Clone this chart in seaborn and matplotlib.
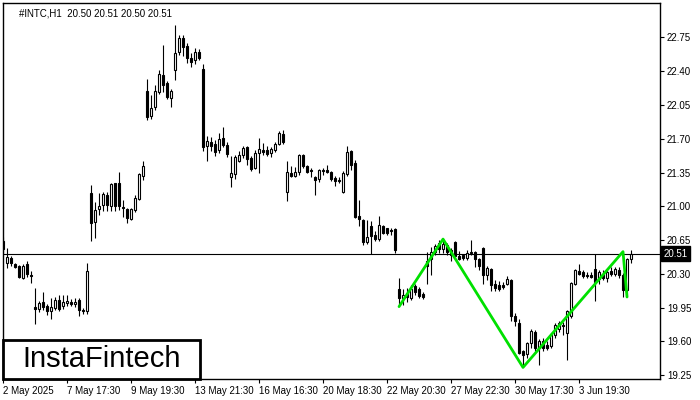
import matplotlib
matplotlib.use("Agg")
import matplotlib.pyplot as plt
import matplotlib.transforms as mtransforms
from matplotlib.patches import Rectangle
import pandas as pd
import numpy as np
import seaborn as sns

# hourly candles (one per bar, left to right)
opens = [20.64, 20.41, 20.46, 20.40, 20.38, 20.26, 20.40, 20.29, 19.96, 19.94,
         20.01, 19.97, 19.91, 19.95, 20.03, 19.97, 20.00, 20.01, 19.99, 20.03,
         19.93, 19.91, 21.14, 20.84, 20.97, 21.01, 21.12, 21.00, 21.24, 21.24,
         20.99, 20.97, 20.87, 20.96, 21.08, 21.31, 22.19, 21.94, 22.03, 22.18,
         22.36, 22.28, 22.12, 22.41, 22.60, 22.74, 22.66, 22.54, 22.52, 22.60,
         22.42, 21.62, 21.67, 21.65, 21.58, 21.71, 21.64, 21.30, 21.33, 21.47,
         21.53, 21.61, 21.50, 21.40, 21.55, 21.58, 21.58, 21.55, 21.58, 21.65,
         21.75, 21.15, 21.35, 21.31, 21.36, 21.53, 21.42, 21.38, 21.30, 21.28,
         21.38, 21.38, 21.36, 21.29, 21.27, 21.15, 21.33, 21.57, 21.45, 20.90,
         20.86, 20.63, 20.80, 20.70, 20.66, 20.80, 20.77, 20.75, 20.76, 20.14,
         20.05, 20.10, 20.05, 20.17, 20.14, 20.09, 20.43, 20.45, 20.53, 20.62,
         20.56, 20.60, 20.55, 20.63, 20.48, 20.49, 20.46, 20.53, 20.53, 20.45,
         20.57, 20.29, 20.35, 20.19, 20.18, 20.18, 20.19, 20.24, 19.86, 19.79,
         19.50, 19.47, 19.58, 19.70, 19.53, 19.60, 19.56, 19.55, 19.67, 19.73,
         19.77, 19.69, 19.86, 20.19, 20.33, 20.32, 20.29, 20.29, 20.35, 20.25,
         20.30, 20.26, 20.33, 20.30, 20.34, 20.29, 20.13, 20.45]
highs = [20.68, 20.57, 20.48, 20.41, 20.39, 20.40, 20.43, 20.33, 20.15, 20.02,
         20.11, 19.99, 20.05, 20.06, 20.08, 20.08, 20.08, 20.04, 20.05, 20.05,
         19.95, 20.41, 21.22, 21.04, 21.14, 21.15, 21.15, 21.24, 21.24, 21.36,
         21.07, 20.98, 20.98, 21.12, 21.35, 21.47, 22.32, 22.15, 22.26, 22.41,
         22.67, 22.30, 22.22, 22.88, 22.78, 22.78, 22.69, 22.59, 22.64, 22.63,
         22.47, 21.73, 21.72, 21.69, 21.76, 21.82, 21.67, 21.52, 21.53, 21.57,
         21.63, 21.63, 21.52, 21.58, 21.71, 21.66, 21.62, 21.61, 21.67, 21.78,
         21.79, 21.47, 21.42, 21.41, 21.54, 21.54, 21.43, 21.40, 21.31, 21.39,
         21.40, 21.43, 21.37, 21.31, 21.30, 21.37, 21.63, 21.58, 21.48, 21.06,
         20.87, 20.86, 20.85, 20.74, 20.90, 20.81, 20.78, 20.77, 20.77, 20.26,
         20.14, 20.15, 20.18, 20.19, 20.16, 20.11, 20.53, 20.58, 20.61, 20.65,
         20.66, 20.62, 20.57, 20.64, 20.54, 20.50, 20.55, 20.65, 20.54, 20.46,
         20.58, 20.38, 20.36, 20.24, 20.23, 20.22, 20.28, 20.25, 19.89, 19.83,
         19.51, 19.59, 19.73, 19.72, 19.62, 19.64, 19.60, 19.69, 19.79, 19.81,
         19.80, 19.93, 20.22, 20.35, 20.40, 20.34, 20.32, 20.32, 20.51, 20.34,
         20.34, 20.34, 20.37, 20.37, 20.37, 20.31, 20.46, 20.55]
lows = [20.52, 20.36, 20.38, 20.36, 20.26, 20.25, 20.27, 20.21, 19.78, 19.90,
        19.93, 19.87, 19.83, 19.93, 19.91, 19.94, 19.97, 19.97, 19.96, 19.86,
        19.88, 19.88, 20.64, 20.67, 20.91, 20.95, 20.95, 20.95, 20.95, 20.96,
        20.89, 20.83, 20.86, 20.94, 21.06, 21.27, 21.89, 21.90, 22.00, 22.16,
        22.18, 22.11, 22.03, 22.31, 22.57, 22.56, 22.48, 22.44, 22.47, 22.52,
        21.57, 21.47, 21.57, 21.52, 21.55, 21.61, 21.51, 21.20, 21.28, 21.46,
        21.50, 21.43, 21.37, 21.39, 21.35, 21.53, 21.52, 21.51, 21.56, 21.64,
        21.65, 21.05, 21.30, 21.30, 21.32, 21.40, 21.35, 21.30, 21.12, 21.25,
        21.32, 21.35, 21.26, 21.21, 21.24, 21.14, 21.31, 21.38, 20.88, 20.80,
        20.60, 20.61, 20.51, 20.64, 20.64, 20.71, 20.70, 20.70, 20.52, 19.98,
        19.98, 20.01, 20.03, 20.08, 20.05, 20.04, 20.19, 20.29, 20.50, 20.52,
        20.52, 20.49, 20.43, 20.47, 20.44, 20.44, 20.44, 20.49, 20.37, 20.34,
        20.19, 20.24, 20.12, 20.12, 20.12, 20.14, 20.18, 19.81, 19.76, 19.47,
        19.35, 19.43, 19.53, 19.50, 19.36, 19.50, 19.51, 19.53, 19.64, 19.70,
        19.67, 19.41, 19.84, 20.18, 20.29, 20.26, 20.26, 20.26, 20.02, 20.19,
        20.24, 20.22, 20.28, 20.28, 20.26, 20.06, 20.06, 20.41]
closes = [20.56, 20.47, 20.41, 20.37, 20.27, 20.38, 20.30, 20.28, 19.94, 20.00,
          19.96, 19.91, 19.96, 20.03, 19.94, 20.01, 20.02, 19.99, 20.01, 19.92,
          19.91, 20.33, 20.83, 20.96, 21.00, 21.13, 21.01, 21.23, 21.00, 21.00,
          20.98, 20.88, 20.97, 21.09, 21.33, 21.42, 21.93, 22.02, 22.20, 22.37,
          22.26, 22.13, 22.19, 22.59, 22.74, 22.65, 22.54, 22.50, 22.60, 22.54,
          21.61, 21.68, 21.63, 21.56, 21.70, 21.64, 21.54, 21.35, 21.51, 21.53,
          21.60, 21.49, 21.39, 21.55, 21.59, 21.56, 21.54, 21.59, 21.65, 21.76,
          21.67, 21.36, 21.31, 21.36, 21.53, 21.42, 21.36, 21.37, 21.27, 21.38,
          21.37, 21.36, 21.28, 21.26, 21.26, 21.35, 21.56, 21.43, 20.89, 20.87,
          20.63, 20.68, 20.69, 20.66, 20.81, 20.72, 20.72, 20.74, 20.55, 20.05,
          20.08, 20.06, 20.14, 20.11, 20.07, 20.06, 20.38, 20.53, 20.59, 20.56,
          20.61, 20.53, 20.50, 20.48, 20.45, 20.46, 20.52, 20.52, 20.45, 20.38,
          20.29, 20.36, 20.18, 20.15, 20.14, 20.16, 20.25, 19.86, 19.81, 19.48,
          19.46, 19.58, 19.71, 19.53, 19.60, 19.53, 19.53, 19.67, 19.77, 19.79,
          19.76, 19.91, 20.20, 20.34, 20.30, 20.28, 20.28, 20.27, 20.22, 20.32,
          20.26, 20.32, 20.30, 20.35, 20.29, 20.13, 20.45, 20.51]

# pattern line (bar index, price)
pattern_bars = [99, 110, 130, 155, 156]
pattern_prices = [19.96, 20.66, 19.33, 20.53, 20.06]

last_price = 20.51
price_ticks = [19.25, 19.60, 19.95, 20.30, 20.65, 21.00, 21.35, 21.70, 22.05, 22.40, 22.75]
date_bars = [0, 16, 32, 48, 64, 80, 96, 112, 128, 144]
date_labels = ["2 May 2025", "7 May 17:30", "9 May 19:30", "13 May 21:30", "16 May 16:30",
               "20 May 18:30", "22 May 20:30", "27 May 22:30", "30 May 17:30", "3 Jun 19:30"]

df = pd.DataFrame({"open": opens, "high": highs, "low": lows, "close": closes})
df["bar"] = np.arange(len(df))
df["bottom"] = df[["open", "close"]].min(axis=1)
df["body"] = (df["close"] - df["open"]).abs()
df["up"] = df["close"] >= df["open"]

sns.set_style("white")
plt.rcParams["font.family"] = ["Liberation Sans", "DejaVu Sans"]

fig = plt.figure(figsize=(7, 4), dpi=100)
ax = fig.add_axes([2.7 / 700, 1 - 379 / 400, (660 - 2.7) / 700, (379 - 2.7) / 400])

# wicks
ax.vlines(df["bar"], df["low"], df["high"], color="black", linewidth=0.8, zorder=2)
# bodies: hollow for up bars, filled for down bars
up = df[df["up"]]
dn = df[~df["up"]]
ax.bar(up["bar"], up["body"], bottom=up["bottom"], width=0.55,
       color="white", edgecolor="black", linewidth=0.8, zorder=3)
ax.bar(dn["bar"], dn["body"], bottom=dn["bottom"], width=0.55,
       color="black", edgecolor="black", linewidth=0.8, zorder=3)

# current price line
ax.axhline(last_price, color="black", linewidth=0.8, zorder=1)

# green pattern
pat = pd.DataFrame({"bar": pattern_bars, "price": pattern_prices})
sns.lineplot(data=pat, x="bar", y="price", sort=False, color="#00e000",
             linewidth=2, ax=ax, zorder=4)

ax.set_xlim(-0.1, 164.25)
ax.set_ylim(19.21, 23.11)

ax.yaxis.tick_right()
ax.set_yticks(price_ticks)
ax.set_yticklabels([f"{t:.2f}" for t in price_ticks])
ax.set_xticks(date_bars)
ax.set_xticklabels(date_labels, ha="left")
ax.tick_params(axis="both", length=3, width=0.8, color="black", labelsize=7,
               labelcolor="black", direction="out", pad=2)
ax.tick_params(axis="y", right=True, left=False)
ax.tick_params(axis="x", bottom=True)
ax.set_xlabel("")
ax.set_ylabel("")
for s in ax.spines.values():
    s.set_visible(True)
    s.set_color("black")
    s.set_linewidth(1)

# price tag on the axis
trans = mtransforms.blended_transform_factory(ax.transAxes, ax.transData)
ax.text(1.005, last_price, "20.51", transform=trans, fontsize=7, color="white",
        ha="left", va="center", zorder=5, clip_on=False,
        bbox=dict(boxstyle="square,pad=0.25", facecolor="black", edgecolor="black"))

# header
ax.text(0.025, 0.985, "#INTC,H1  20.50 20.51 20.50 20.51", transform=ax.transAxes,
        fontsize=7, color="black", ha="left", va="top")

# logo
fig.patches.append(Rectangle((2.7 / 700, 1 - 379 / 400), (200 - 2.7) / 700, 39 / 400,
                             transform=fig.transFigure, facecolor="white",
                             edgecolor="black", linewidth=2, zorder=6))
fig.text(102 / 700, 1 - 359 / 400, "InstaFintech", fontsize=21, color="black",
         ha="center", va="center", zorder=7)

fig.savefig("out.png", dpi=100)
